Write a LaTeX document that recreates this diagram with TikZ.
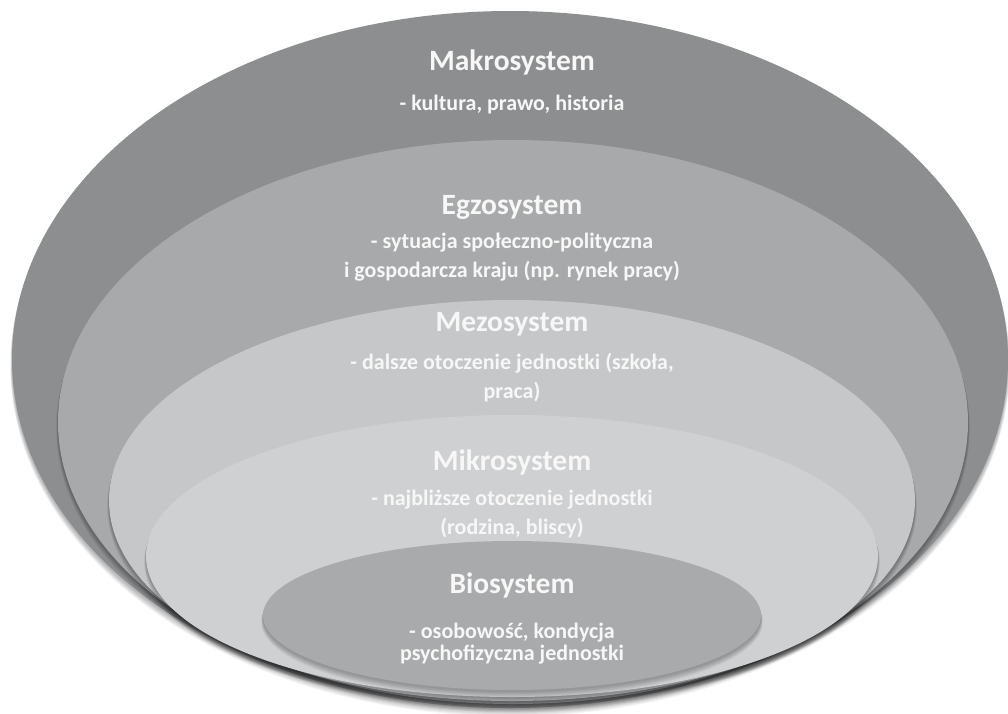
\documentclass[tikz,border=0pt]{standalone}
\usepackage{fontspec}
\setmainfont{Carlito}
\usetikzlibrary{shapes.geometric}

\definecolor{makroFill}{HTML}{8D8E90}
\definecolor{egzoFill}{HTML}{A8A9AB}
\definecolor{mezoFill}{HTML}{C6C7C9}
\definecolor{mikroFill}{HTML}{CFD0D2}
\definecolor{bioFill}{HTML}{A9AAAC}
\definecolor{labelText}{HTML}{F7F7F7}

\tikzset{
  layer/.style={ellipse, inner sep=0pt, outer sep=0pt, draw=none},
  title/.style={text=labelText, font=\bfseries\fontsize{29.5}{32}\selectfont},
  desc/.style={text=labelText, align=center, font=\bfseries\fontsize{22}{29}\selectfont},
  descTight/.style={text=labelText, align=center, font=\bfseries\fontsize{22}{22}\selectfont},
}

% one ring: soft shadow underneath, then the filled ellipse node
% #1 name, #2 cx, #3 cy, #4 rx, #5 ry, #6 colour
\newcommand\ringlayer[6]{%
  \foreach \k in {1,...,7}{%
    \fill[black, opacity=0.045]
      (#2, #3 + 1 + 0.75*\k) ellipse [x radius=#4 + 0.25*\k, y radius=#5 + 0.3*\k];
  }%
  \node[layer, fill=#6, minimum width=2*#4, minimum height=2*#5] (#1) at (#2,#3) {};
}

\begin{document}
\begin{tikzpicture}[x=1pt, y=-1pt]
  \useasboundingbox (0,0) rectangle (1008,713);
  \fill[white] (0,0) rectangle (1008,713);

  % nested layers, outermost first
  \ringlayer{makro}{510}{359.5}{498}{348.5}{makroFill}
  \ringlayer{egzo}{513}{422}{455}{282}{egzoFill}
  \ringlayer{mezo}{512}{500.5}{403}{200.5}{mezoFill}
  \ringlayer{mikro}{512}{556}{366}{141}{mikroFill}
  \ringlayer{bio}{512}{615.5}{249}{74.5}{bioFill}

  % labels
  \node[title] (makroT) at (512,62) {Makrosystem};
  \node[desc]  (makroD) at (512,105) {- kultura, prawo, historia};

  \node[title] (egzoT) at (512,207) {Egzosystem};
  \node[desc]  (egzoD) at (512,257.5) {- sytuacja społeczno-polityczna\\i gospodarcza kraju (np. rynek pracy)};

  \node[title] (mezoT) at (512,324) {Mezosystem};
  \node[desc]  (mezoD) at (512,377.5) {- dalsze otoczenie jednostki (szkoła,\\praca)};

  \node[title] (mikroT) at (512,462) {Mikrosystem};
  \node[desc]  (mikroD) at (512,514) {- najbliższe otoczenie jednostki\\(rodzina, bliscy)};

  \node[title] (bioT) at (512,585) {Biosystem};
  \node[descTight] (bioD) at (512,644) {- osobowość, kondycja\\psychofizyczna jednostki};
\end{tikzpicture}
\end{document}
